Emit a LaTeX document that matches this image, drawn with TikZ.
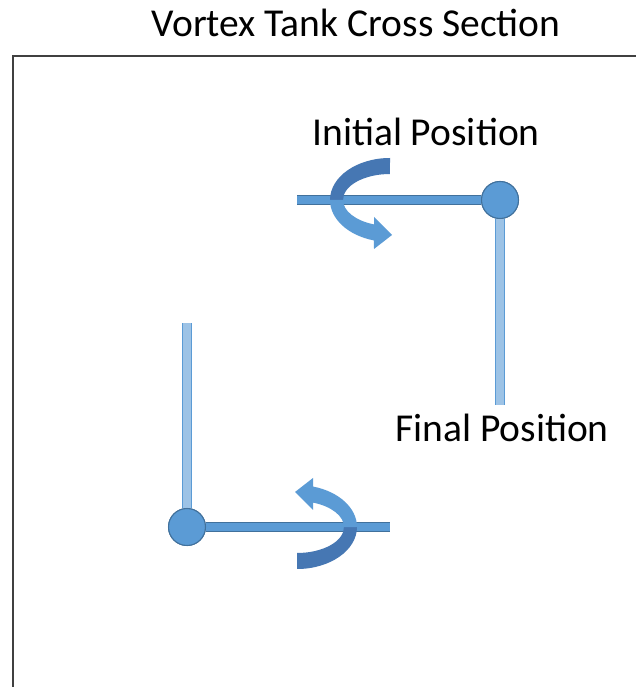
\documentclass[tikz,border=0pt]{standalone}
\usepackage{fontspec}
\setmainfont{Carlito}

\definecolor{RodBlue}{HTML}{5B9BD5}
\definecolor{RodEdge}{HTML}{41719C}
\definecolor{ArmBlue}{HTML}{9DC3E6}
\definecolor{TurnDark}{HTML}{4677B3}
\definecolor{FrameGray}{HTML}{404040}

\tikzset{
  caption/.style={font=\fontsize{22.5}{27}\selectfont, inner sep=0pt, anchor=base},
  hub/.style={circle, fill=RodBlue, draw=RodEdge, line width=0.6pt, minimum size=0.74cm, inner sep=0pt},
  rod/.style={draw=RodEdge, line width=0.5pt, double=RodBlue, double distance=0.17cm},
  arm/.style={draw=RodBlue, line width=0.5pt, double=ArmBlue, double distance=0.17cm},
  pics/turn arrow/.style={code={
    \fill[TurnDark] (0,42) arc[start angle=90, end angle=180, x radius=1.2cm, y radius=0.84cm]
      -- (-47,0) arc[start angle=180, end angle=90, x radius=0.94cm, y radius=0.52cm] -- cycle;
    \fill[RodBlue] (-60,0) arc[start angle=180, end angle=254.5, x radius=1.2cm, y radius=0.84cm]
      -- (-16,-49) -- (2,-35) -- (-16,-17) -- (-16,-24.4)
      arc[start angle=250.1, end angle=180, x radius=0.94cm, y radius=0.52cm] -- cycle;
  }}
}

\begin{document}
\begin{tikzpicture}[x=0.02cm, y=0.02cm]
  \clip (0,0) rectangle (636,687);
  \fill[white] (0,0) rectangle (636,687);

  % tank wall
  \draw[FrameGray, line width=1.1pt] (13,-50) rectangle (700,631);
  \node[caption] (title) at (356,650) {Vortex Tank Cross Section};

  % initial position
  \node[hub] (top hub) at (500,487) {};
  \coordinate (top rod end) at (297,487);
  \coordinate (top arm end) at (500,282);
  \draw[arm] (top hub) -- (top arm end);
  \draw[rod] (top hub) -- (top rod end);
  \node[hub] at (top hub) {};
  \pic at (390,487) {turn arrow};
  \node[caption] (initial) at (426,541) {Initial Position};

  % final position
  \node[hub] (low hub) at (187,160) {};
  \coordinate (low rod end) at (390,160);
  \coordinate (low arm end) at (187,364);
  \draw[arm] (low hub) -- (low arm end);
  \draw[rod] (low hub) -- (low rod end);
  \node[hub] at (low hub) {};
  \pic[rotate=180] at (297,160) {turn arrow};
  \node[caption] (final) at (502,245) {Final Position};
\end{tikzpicture}
\end{document}
